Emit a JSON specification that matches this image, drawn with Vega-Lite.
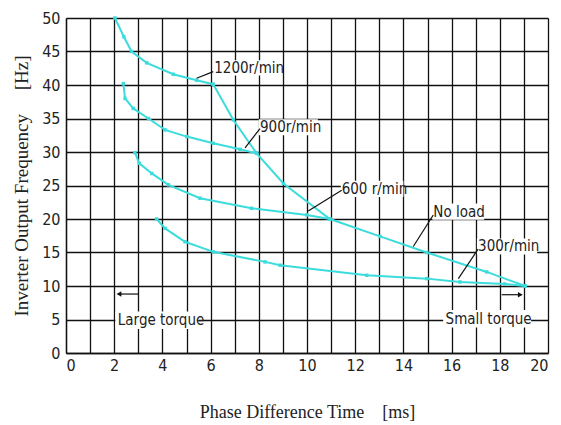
{
  "$schema": "https://vega.github.io/schema/vega-lite/v6.json",
  "width": 482,
  "height": 335,
  "autosize": "none",
  "padding": {"left": 66, "top": 18, "right": 13, "bottom": 72},
  "background": "white",
  "config": {
    "view": {"stroke": null},
    "axis": {
      "labelFont": "Liberation Sans Narrow, DejaVu Sans Condensed, sans-serif",
      "labelFontSize": 16,
      "labelColor": "#222",
      "labelOverlap": false,
      "titleFont": "Liberation Serif, serif",
      "titleFontWeight": "normal",
      "titleColor": "#222",
      "gridColor": "#111",
      "gridOpacity": 1,
      "gridWidth": 1.3,
      "domainColor": "#111",
      "domainWidth": 1.3,
      "ticks": false
    }
  },
  "datasets": {
    "curves": [
      {"s": "1200", "x": 2.03, "y": 50.0},
      {"s": "1200", "x": 2.4, "y": 47.2},
      {"s": "1200", "x": 2.72, "y": 45.0},
      {"s": "1200", "x": 3.35, "y": 43.3},
      {"s": "1200", "x": 4.45, "y": 41.6},
      {"s": "1200", "x": 5.42, "y": 40.7},
      {"s": "1200", "x": 6.11, "y": 40.1},
      {"s": "noload", "x": 6.11, "y": 40.1},
      {"s": "noload", "x": 6.94, "y": 34.8},
      {"s": "noload", "x": 7.91, "y": 29.8},
      {"s": "noload", "x": 9.02, "y": 25.3},
      {"s": "noload", "x": 10.95, "y": 20.0},
      {"s": "noload", "x": 13.03, "y": 17.4},
      {"s": "noload", "x": 14.97, "y": 15.0},
      {"s": "noload", "x": 17.46, "y": 12.1},
      {"s": "noload", "x": 19.05, "y": 10.0},
      {"s": "900", "x": 2.38, "y": 40.2},
      {"s": "900", "x": 2.45, "y": 38.0},
      {"s": "900", "x": 2.79, "y": 36.5},
      {"s": "900", "x": 3.42, "y": 35.0},
      {"s": "900", "x": 4.11, "y": 33.3},
      {"s": "900", "x": 5.01, "y": 32.3},
      {"s": "900", "x": 6.11, "y": 31.3},
      {"s": "900", "x": 7.22, "y": 30.4},
      {"s": "900", "x": 7.91, "y": 29.8},
      {"s": "600", "x": 2.86, "y": 29.9},
      {"s": "600", "x": 3.04, "y": 28.3},
      {"s": "600", "x": 3.56, "y": 26.8},
      {"s": "600", "x": 4.25, "y": 25.1},
      {"s": "600", "x": 5.56, "y": 23.1},
      {"s": "600", "x": 7.7, "y": 21.6},
      {"s": "600", "x": 9.99, "y": 20.6},
      {"s": "600", "x": 10.95, "y": 20.0},
      {"s": "300", "x": 3.76, "y": 20.0},
      {"s": "300", "x": 4.11, "y": 18.6},
      {"s": "300", "x": 4.94, "y": 16.6},
      {"s": "300", "x": 6.11, "y": 15.1},
      {"s": "300", "x": 8.26, "y": 13.6},
      {"s": "300", "x": 8.89, "y": 13.1},
      {"s": "300", "x": 12.48, "y": 11.6},
      {"s": "300", "x": 14.97, "y": 11.1},
      {"s": "300", "x": 16.35, "y": 10.6},
      {"s": "300", "x": 18.2, "y": 10.3},
      {"s": "300", "x": 19.05, "y": 10.0}
    ],
    "labels": [
      {"t": "1200r/min", "x": 6.15, "y": 42.5, "x0": 6.1, "x1": 8.95, "y0": 41.4, "y1": 43.7},
      {"t": "900r/min", "x": 8.05, "y": 33.7, "x0": 8.0, "x1": 10.45, "y0": 32.5, "y1": 34.9},
      {"t": "600 r/min", "x": 11.44, "y": 24.5, "x0": 11.4, "x1": 14.0, "y0": 23.3, "y1": 25.7},
      {"t": "No load", "x": 15.24, "y": 21.1, "x0": 15.2, "x1": 17.35, "y0": 19.9, "y1": 22.3},
      {"t": "300r/min", "x": 17.1, "y": 15.9, "x0": 17.05, "x1": 19.55, "y0": 14.7, "y1": 17.1},
      {"t": "Large torque", "x": 2.15, "y": 4.9, "x0": 2.05, "x1": 5.5, "y0": 3.6, "y1": 6.2},
      {"t": "Small torque", "x": 15.75, "y": 5.1, "x0": 15.65, "x1": 19.3, "y0": 3.8, "y1": 6.4}
    ],
    "leaders": [
      {"x": 6.11, "y": 42.0, "x2": 5.42, "y2": 41.0},
      {"x": 8.05, "y": 33.5, "x2": 7.43, "y2": 30.6},
      {"x": 11.44, "y": 24.3, "x2": 10.05, "y2": 21.2},
      {"x": 15.24, "y": 20.6, "x2": 14.41, "y2": 15.9},
      {"x": 17.1, "y": 15.5, "x2": 16.28, "y2": 11.1},
      {"x": 3.0, "y": 8.8, "x2": 2.15, "y2": 8.8},
      {"x": 18.08, "y": 8.7, "x2": 18.9, "y2": 8.7}
    ],
    "heads": [
      {"x": 2.2, "y": 8.8, "dir": "triangle-left"},
      {"x": 18.85, "y": 8.7, "dir": "triangle-right"}
    ]
  },
  "layer": [
    {
      "data": {"name": "labels"},
      "mark": {"type": "rect", "color": "white"},
      "encoding": {
        "x": {
          "field": "x0", "type": "quantitative",
          "scale": {"domain": [0, 20], "nice": false},
          "axis": {
            "values": [0,1,2,3,4,5,6,7,8,9,10,11,12,13,14,15,16,17,18,19,20],
            "tickCount": 40,
            "labelExpr": "datum.value % 2 == 0 ? format(datum.value, 'd') : ''",
            "labelPadding": 4,
            "title": "Phase Difference Time\u00a0\u00a0\u00a0 [ms]",
            "titleFontSize": 18,
            "titlePadding": 30
          }
        },
        "x2": {"field": "x1"},
        "y": {
          "field": "y0", "type": "quantitative",
          "scale": {"domain": [0, 50], "nice": false},
          "axis": {
            "values": [0,5,10,15,20,25,30,35,40,45,50],
            "tickCount": 40,
            "format": "d",
            "labelPadding": 6,
            "title": "Inverter Output Frequency\u00a0\u00a0\u00a0\u00a0 [Hz]",
            "titleFontSize": 19,
            "titlePadding": 10
          }
        },
        "y2": {"field": "y1"}
      }
    },
    {
      "data": {"name": "curves"},
      "mark": {"type": "line", "color": "#3cdcdc", "strokeWidth": 2, "point": {"shape": "square", "size": 12, "filled": true, "color": "#3cdcdc"}},
      "encoding": {
        "x": {"field": "x", "type": "quantitative"},
        "y": {"field": "y", "type": "quantitative"},
        "detail": {"field": "s", "type": "nominal"}
      }
    },
    {
      "data": {"name": "leaders"},
      "mark": {"type": "rule", "color": "#111", "strokeWidth": 1.2},
      "encoding": {
        "x": {"field": "x", "type": "quantitative"},
        "y": {"field": "y", "type": "quantitative"},
        "x2": {"field": "x2"},
        "y2": {"field": "y2"}
      }
    },
    {
      "data": {"name": "heads"},
      "mark": {"type": "point", "filled": true, "color": "#111", "size": 30, "opacity": 1},
      "encoding": {
        "x": {"field": "x", "type": "quantitative"},
        "y": {"field": "y", "type": "quantitative"},
        "shape": {"field": "dir", "type": "nominal", "scale": null, "legend": null}
      }
    },
    {
      "data": {"name": "labels"},
      "mark": {"type": "text", "align": "left", "baseline": "middle", "font": "Liberation Sans Narrow, DejaVu Sans Condensed, sans-serif", "fontSize": 15, "color": "#222"},
      "encoding": {
        "x": {"field": "x", "type": "quantitative"},
        "y": {"field": "y", "type": "quantitative"},
        "text": {"field": "t", "type": "nominal"}
      }
    }
  ]
}
